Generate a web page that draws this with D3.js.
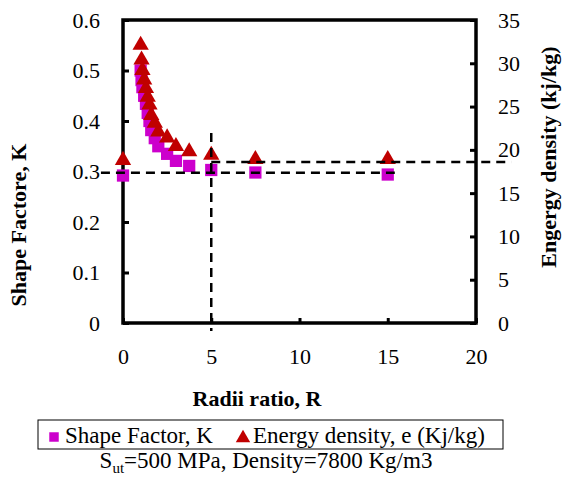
<!DOCTYPE html>
<html>
<head>
<meta charset="utf-8">
<script src="https://cdn.jsdelivr.net/npm/d3@7"></script>
<style>
  body { margin: 0; background: #fff; font-family: 'Liberation Serif'; }
  svg text { font-family: 'Liberation Serif' !important; }
</style>
</head>
<body>
<div id="chart"></div>
<script>
// values
var radii  = [0, 1.0, 1.05, 1.1, 1.2, 1.3, 1.4, 1.5, 1.6, 1.8, 2.0, 2.5, 3.0, 3.75, 5, 7.5, 15];
var shapeK = [0.292, 0.500, 0.481, 0.467, 0.450, 0.434, 0.416, 0.400, 0.382, 0.366, 0.350, 0.335, 0.321, 0.311, 0.303, 0.298, 0.294];
var energy = [18.8, 32.1, 30.4, 29.2, 28.1, 27.1, 26.1, 25.2, 24.0, 23.1, 22.1, 21.4, 20.4, 19.8, 19.4, 18.9, 18.9];

var xTicks = [0, 5, 10, 15, 20];
var kTicks = [0, 0.1, 0.2, 0.3, 0.4, 0.5, 0.6];
var eTicks = [0, 5, 10, 15, 20, 25, 30, 35];

// dashed guide lines
var refR = 5, refK = 0.2976, refE = 18.6;

var serif = 'Liberation Serif';

var width = 572, height = 491;
var margin = { top: 20, right: 96, bottom: 168, left: 123 };
var w = width - margin.left - margin.right,
    h = height - margin.top - margin.bottom;

var svg = d3.select('#chart')
  .append('svg')
  .attr('width', width)
  .attr('height', height)
  .attr('font-family', serif);

var x = d3.scaleLinear().domain([0, 20]).range([0, w]);
var yK = d3.scaleLinear().domain([0, 0.6]).range([h, 0]);
var yE = d3.scaleLinear().domain([0, 35]).range([h, 0]);

var magenta = '#cc00cc', red = '#c00000';

function label(parent, size, bold) {
  var t = parent.append('text')
    .attr('font-family', serif)
    .attr('font-size', size);
  if (bold) t.attr('font-weight', 'bold');
  return t;
}

var g = svg.append('g')
  .attr('transform', 'translate(' + margin.left + ',' + margin.top + ')');

var xAxis = g.append('g')
  .attr('transform', 'translate(0,' + h + ')')
  .call(d3.axisBottom(x).tickValues(xTicks).tickSize(-5).tickPadding(25).tickFormat(d3.format('d')));

var yAxisL = g.append('g')
  .call(d3.axisLeft(yK).tickValues(kTicks).tickSize(-6).tickPadding(23)
    .tickFormat(function(d) { return d === 0 ? '0' : d3.format('.1f')(d); }));

var yAxisR = g.append('g')
  .attr('transform', 'translate(' + w + ',0)')
  .call(d3.axisRight(yE).tickValues(eTicks).tickSize(-6).tickPadding(22).tickFormat(d3.format('d')));

[xAxis, yAxisL, yAxisR].forEach(function(a) {
  a.attr('font-family', serif).attr('font-size', 22);
  a.select('.domain').remove();
  a.selectAll('line').attr('stroke', '#000').attr('stroke-width', 3);
  a.selectAll('text').attr('fill', '#000').attr('font-family', serif);
});

// frame
g.append('rect')
  .attr('x', 0).attr('y', 0)
  .attr('width', w).attr('height', h)
  .attr('fill', 'none')
  .attr('stroke', '#000')
  .attr('stroke-width', 3.5);

var pts = radii.map(function(r, i) { return { r: r, k: shapeK[i], e: energy[i] }; });

g.selectAll('.sq')
  .data(pts)
  .enter()
  .append('path')
  .attr('class', 'sq')
  .attr('d', d3.symbol().type(d3.symbolSquare).size(150))
  .attr('fill', magenta)
  .attr('transform', function(d) { return 'translate(' + x(d.r) + ',' + yK(d.k) + ')'; });

g.selectAll('.tri')
  .data(pts)
  .enter()
  .append('path')
  .attr('class', 'tri')
  .attr('d', d3.symbol().type(d3.symbolTriangle).size(115))
  .attr('fill', red)
  .attr('transform', function(d) { return 'translate(' + x(d.r) + ',' + yE(d.e) + ')'; });

// dashed guides
var dash = function(x1, y1, x2, y2) {
  g.append('line')
    .attr('x1', x1).attr('y1', y1).attr('x2', x2).attr('y2', y2)
    .attr('stroke', '#000')
    .attr('stroke-width', 2.5)
    .attr('stroke-dasharray', '9,6');
};
dash(x(-1.25), yK(refK), x(15.4), yK(refK));
dash(x(refR), yE(refE), x(22), yE(refE));
dash(x(refR), yK(0.376), x(refR), yK(-0.016));

// axis titles
label(svg, 22, true)
  .attr('transform', 'translate(26,225) rotate(-90)')
  .attr('text-anchor', 'middle')
  .text('Shape Factore, K');

label(svg, 22, true)
  .attr('transform', 'translate(' + (margin.left + w + 80) + ',157) rotate(-90)')
  .attr('text-anchor', 'middle')
  .text('Engergy density (kj/kg)');

label(svg, 22, true)
  .attr('x', 257)
  .attr('y', 406)
  .attr('text-anchor', 'middle')
  .text('Radii ratio, R');

// legend
var legend = svg.append('g');
legend.append('rect')
  .attr('x', 38).attr('y', 420)
  .attr('width', 465).attr('height', 29)
  .attr('fill', '#fff')
  .attr('stroke', '#000')
  .attr('stroke-width', 1);
legend.append('path')
  .attr('d', d3.symbol().type(d3.symbolSquare).size(90))
  .attr('fill', magenta)
  .attr('transform', 'translate(54,437)');
label(legend, 23, false)
  .attr('x', 65).attr('y', 443)
  .text('Shape Factor, K');
legend.append('path')
  .attr('d', d3.symbol().type(d3.symbolTriangle).size(90))
  .attr('fill', red)
  .attr('transform', 'translate(243,438)');
label(legend, 23, false)
  .attr('x', 253).attr('y', 443)
  .text('Energy density, e (Kj/kg)');

// note
var note = label(svg, 23, false)
  .attr('x', 266)
  .attr('y', 468)
  .attr('text-anchor', 'middle');
note.append('tspan').text('S');
note.append('tspan').attr('dy', 5).attr('font-size', 15).text('ut');
note.append('tspan').attr('dy', -5).text('=500 MPa, Density=7800 Kg/m3');
</script>
</body>
</html>
